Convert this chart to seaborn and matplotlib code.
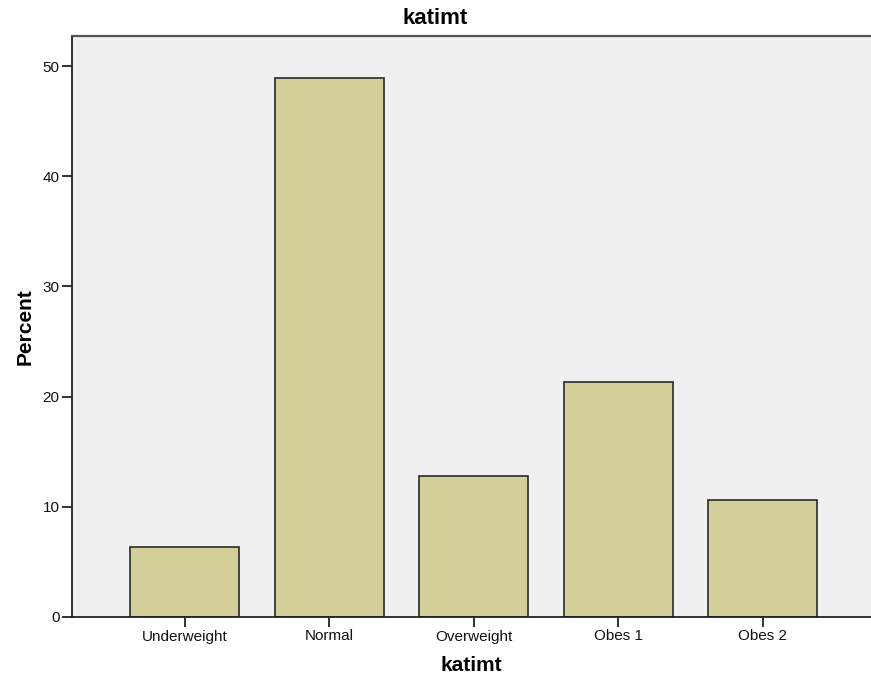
import matplotlib
matplotlib.use("Agg")
import matplotlib.pyplot as plt
import seaborn as sns
import pandas as pd

categories = ["Underweight", "Normal", "Overweight", "Obes 1", "Obes 2"]
percent = [6.38, 48.94, 12.77, 21.28, 10.64]
yticks = [0, 10, 20, 30, 40, 50]

sns.set_theme(style="white")
plt.rcParams['font.family'] = ['Liberation Sans', 'DejaVu Sans']
plt.rcParams['text.color'] = 'black'
plt.rcParams['axes.labelcolor'] = 'black'

df = pd.DataFrame({"katimt": categories, "Percent": percent})

fig = plt.figure(figsize=(8.71, 6.88), dpi=100)
ax = fig.add_axes([72/871, 1-617/688, 1-72/871, (617-36)/688])
ax.set_facecolor("#f0f0f0")

sns.barplot(data=df, x="katimt", y="Percent", ax=ax, color="#d3cf98",
            saturation=1, width=0.755, edgecolor="#2b2b2b", linewidth=1.2)

ax.set_xlim(-0.78, 4 + (871 - 762.5) / 144.5)
ax.set_ylim(0, (617 - 36) / 11.02)
ax.set_yticks(yticks)
ax.set_yticklabels([str(v) for v in yticks])

for s in ["left", "bottom", "top"]:
    ax.spines[s].set_visible(True)
    ax.spines[s].set_color("#222222")
    ax.spines[s].set_linewidth(1.3)
ax.spines["right"].set_visible(False)
ax.spines["top"].set_color("#555555")
ax.spines["top"].set_linewidth(1.6)

ax.tick_params(axis="both", which="both", direction="out", length=7, width=1.3,
               color="#222222", labelsize=11, pad=2, left=True, bottom=True,
               labelcolor="#111111")

ax.set_xlabel("katimt", fontsize=15, fontweight="bold", labelpad=9, color="black")
ax.set_ylabel("Percent", fontsize=15, fontweight="bold", labelpad=6, color="black")
fig.text(0.5, 1 - 18/688, "katimt", ha="center", va="center",
         fontsize=16, fontweight="bold", color="black")

fig.savefig("out.png", dpi=100)
